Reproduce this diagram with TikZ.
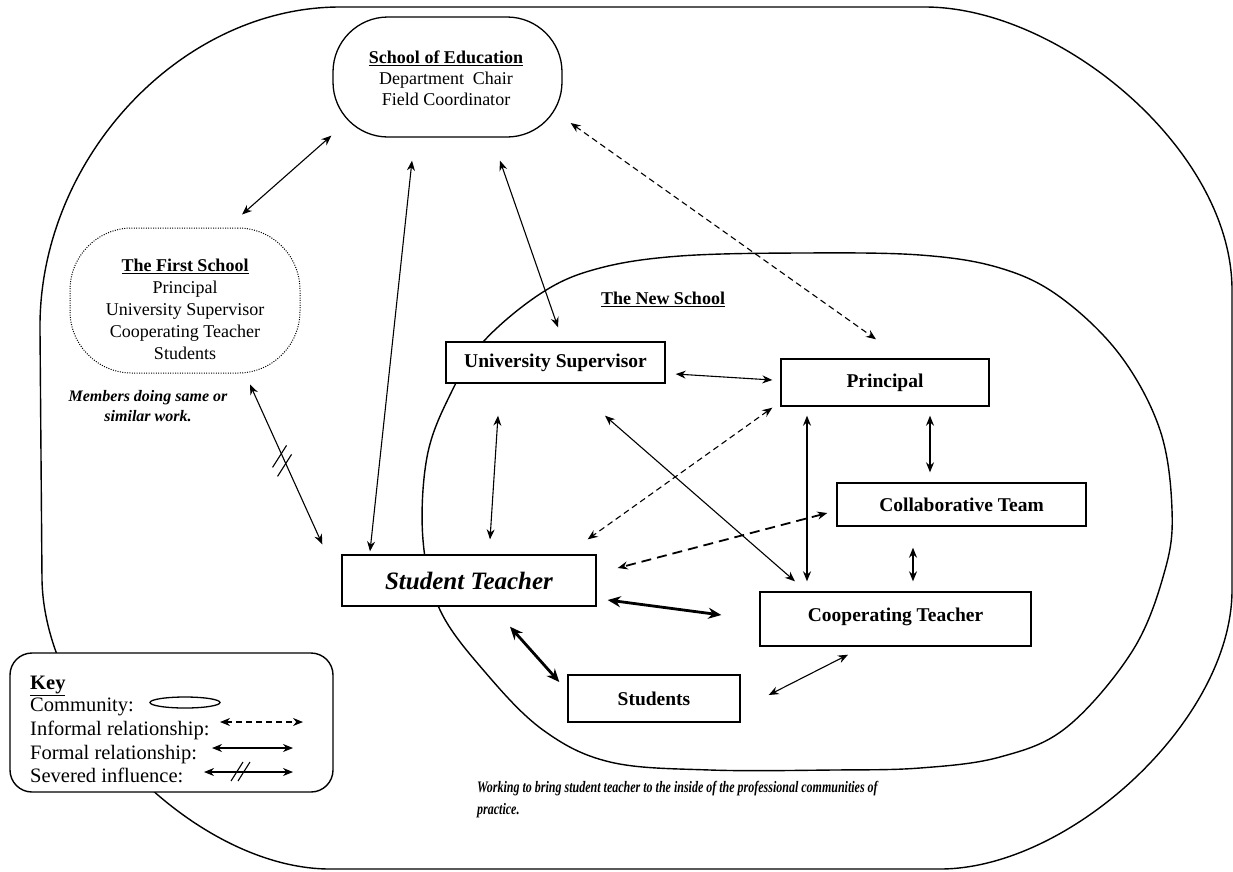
\documentclass[tikz,border=0pt]{standalone}
\usepackage{fontspec}
\setmainfont{Liberation Serif}
\newfontfamily\condfont[FakeStretch=0.75]{Liberation Serif}
\usetikzlibrary{arrows.meta,calc,shapes.geometric}
\begin{document}
\begin{tikzpicture}[x=1pt,y=-1pt,
  boundary/.style={line width=1.4pt},
  box/.style={draw, line width=1.4pt, fill=white, inner sep=0pt, align=center,
    font=\fontsize{19.5}{22}\selectfont\bfseries},
  community/.style={draw, line width=1.3pt, fill=white, inner sep=0pt, align=center,
    font=\fontsize{18}{21}\selectfont},
  rel/.style={{Stealth[length=10pt,width=8pt]}-{Stealth[length=10pt,width=8pt]}, line width=1.1pt},
  inf/.style={rel, dash pattern=on 6pt off 4pt},
  infbold/.style={rel, line width=1.8pt, dash pattern=on 10pt off 6pt},
  strong/.style={{Stealth[length=13pt,width=11pt]}-{Stealth[length=13pt,width=11pt]}, line width=2.8pt},
  keytext/.style={anchor=base west, inner sep=0pt, font=\fontsize{20.5}{23}\selectfont},
  note/.style={inner sep=0pt, align=center, font=\fontsize{16}{20}\selectfont\bfseries\itshape}
]
\useasboundingbox (0,0) rectangle (1233,871);

% outer community
\draw[boundary] (340,7) -- (925,7)
  .. controls (1060,7) and (1232,150) .. (1232,290)
  -- (1232,590)
  .. controls (1232,720) and (1070,869) .. (940,869)
  -- (330,869)
  .. controls (200,869) and (45,720) .. (42,580)
  -- (40,330)
  .. controls (38,160) and (180,7) .. (340,7) -- cycle;

% inner community: The New School
\draw[boundary] plot[smooth cycle, tension=0.6] coordinates {
  (423,540) (427,457) (450,395) (483,342) (543,292) (600,268) (680,256)
  (800,253) (920,255) (1000,268) (1060,297) (1120,355) (1160,430) (1172,510)
  (1165,570) (1133,650) (1067,727) (1000,757) (920,768) (833,770) (710,770)
  (610,762) (543,730) (485,672) (440,610)};

% communities
\node[community, rounded corners=55pt, minimum width=229pt, minimum height=120pt] (soe) at (447.5,77) {};
\node[align=center, inner sep=0pt, font=\fontsize{18}{21}\selectfont] (soetext) at (446,78)
  {\textbf{\underline{School of Education}}\\Department\ \ Chair\\Field Coordinator};

\node[community, draw=black, line width=1pt, dash pattern=on 1pt off 1.4pt, rounded corners=62pt,
  minimum width=230pt, minimum height=145pt] (first) at (185,300.5) {};
\node[align=center, inner sep=0pt, font=\fontsize{18}{22}\selectfont] (firsttext) at (185,309)
  {\textbf{\underline{The First School}}\\Principal\\University Supervisor\\Cooperating Teacher\\Students};

\node[note] (members) at (148,406) {Members doing same or\\similar work.};

\node[inner sep=0pt, font=\fontsize{18}{21}\selectfont\bfseries] (newschool) at (663,299) {\underline{The New School}};

% role boxes
\node[box, minimum width=219pt, minimum height=41pt] (us) at (555.5,362.5) {University Supervisor};
\node[box, minimum width=208pt, minimum height=47pt] (pr) at (885,382.5) {Principal};
\node[box, minimum width=249pt, minimum height=43pt] (ct) at (961.5,504.5) {Collaborative Team};
\node[box, minimum width=254pt, minimum height=51pt, font=\fontsize{25}{28}\selectfont\bfseries\itshape] (st) at (469,580.5) {Student Teacher};
\node[box, minimum width=271pt, minimum height=54pt] (coop) at (895.5,619) {Cooperating Teacher\rule[-9pt]{0pt}{1pt}};
\node[box, minimum width=172pt, minimum height=47pt] (stu) at (654,698.5) {Students};

% relationships
\draw[rel] ([shift={(-1,-2)}]soe.south west) -- ([shift={(57,-13)}]first.north);
\draw[rel] ([shift={(-35.5,23)}]soe.south) -- ([shift={(-99,-3)}]st.north);
\draw[rel] ([shift={(52.5,23)}]soe.south) -- ([shift={(2.5,-14)}]us.north);
\draw[inf] ([shift={(8,46)}]soe.east) -- ([shift={(-9,-19)}]pr.north);
\draw[rel] ([shift={(65,11)}]first.south) -- coordinate[pos=0.45] (cut) ([shift={(-19,-10)}]st.north west);
\draw[line width=1.1pt] ($(cut)+(-10,11)$) -- ($(cut)+(4,-11)$);
\draw[line width=1.1pt] ($(cut)+(-5,20)$) -- ($(cut)+(9,-2)$);
\draw[rel] ([shift={(10,11.5)}]us.east) -- ([shift={(-8,-2.5)}]pr.west);
\draw[rel] ([shift={(-57.5,32)}]us.south) -- ([shift={(21,-15)}]st.north);
\draw[rel] ([shift={(49.5,32)}]us.south) -- ([shift={(-100.5,-10)}]coop.north);
\draw[inf] ([shift={(-8,1)}]pr.south west) -- ([shift={(-9,-15)}]st.north east);
\draw[rel] ([shift={(-78,9)}]pr.south) -- ([shift={(-88.5,-10)}]coop.north);
\draw[rel] ([shift={(45,9)}]pr.south) -- ([shift={(-31.5,-10)}]ct.north);
\draw[infbold] ([shift={(-9,8.5)}]ct.west) -- ([shift={(21,-12.5)}]st.east);
\draw[rel] ([shift={(-48.5,21)}]ct.south) -- ([shift={(17.5,-10)}]coop.north);
\draw[strong] ([shift={(11,19.5)}]st.east) -- ([shift={(-38,-4)}]coop.west);
\draw[strong] ([shift={(41,20)}]st.south) -- ([shift={(-8,-16.5)}]stu.west);
\draw[rel] ([shift={(28,-3.5)}]stu.east) -- ([shift={(-47.5,8)}]coop.south);

% bottom note
\node[anchor=north west, inner sep=0pt, align=left,
  font=\fontsize{16}{22}\condfont\bfseries\itshape] (working) at (477,781)
  {Working to bring student teacher to the inside of the professional communities of\\practice.};

% key
\node[draw, line width=1.4pt, fill=white, rounded corners=22pt, minimum width=323pt,
  minimum height=139pt, inner sep=0pt] (key) at (171.5,722.5) {};
\node[keytext] (keytitle) at (30,689) {\textbf{\underline{Key}}};
\node[keytext] (k1) at (30,711) {Community:};
\node[keytext] (k2) at (30,735) {Informal relationship:};
\node[keytext] (k3) at (30,759) {Formal relationship:};
\node[keytext] (k4) at (30,782) {Severed influence:};
\node[draw, line width=1.3pt, ellipse, minimum width=70pt, minimum height=11pt, inner sep=0pt] (kell) at (185,702.5) {};
\coordinate (i1) at (220,722); \coordinate (i2) at (303,722);
\coordinate (f1) at (212,748); \coordinate (f2) at (293,748);
\coordinate (s1) at (204,772); \coordinate (s2) at (293,772);
\draw[inf] (i1) -- (i2);
\draw[rel] (f1) -- (f2);
\draw[rel] (s1) -- (s2);
\draw[line width=1.1pt] (231,781) -- (243,762);
\draw[line width=1.1pt] (238,781) -- (250,762);
\end{tikzpicture}
\end{document}
